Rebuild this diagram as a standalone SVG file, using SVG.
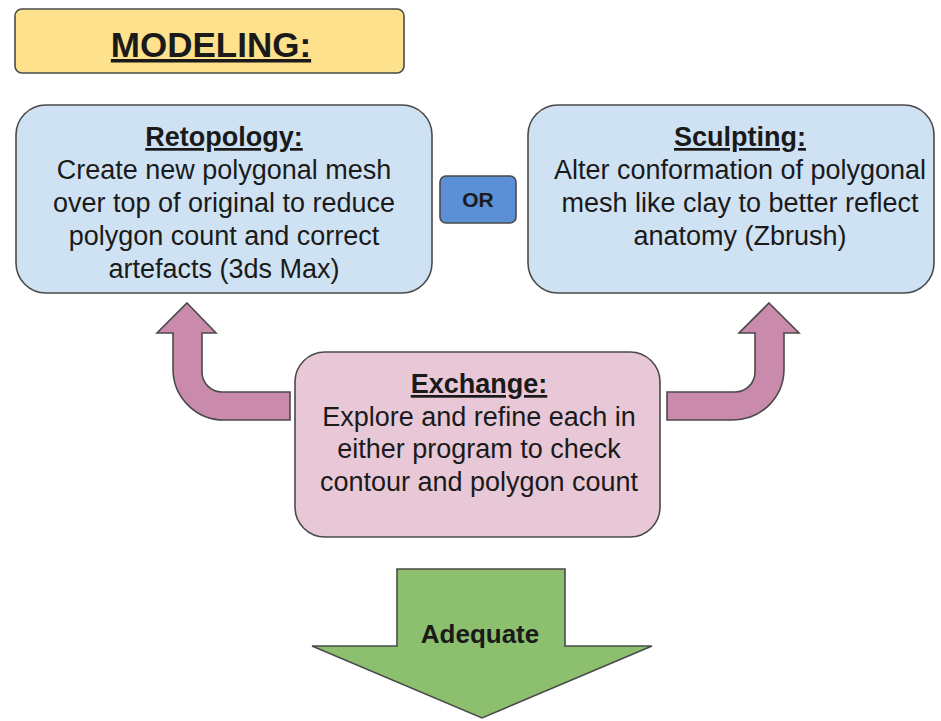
<svg xmlns="http://www.w3.org/2000/svg" width="941" height="721" viewBox="0 0 941 721">
  <style>
    .box { stroke: #4a4a4a; stroke-width: 1.6; }
    .txt { font-family: "Liberation Sans", Arial, sans-serif; font-size: 27px; fill: #1a1a1a; text-anchor: middle; }
    .hd { font-weight: bold; text-decoration: underline; }
    .arrow { stroke: #4a4a4a; stroke-width: 1.6; stroke-linejoin: miter; }
  </style>
  <rect width="941" height="721" fill="#ffffff"/>

  <g id="title">
    <rect class="box" x="15" y="9" width="389" height="64" rx="7" fill="#fde18d"/>
    <text class="txt hd" x="211" y="57" style="font-size:35px">MODELING:</text>
  </g>

  <g id="connectors">
    <!-- curved arrow from Exchange up to Retopology -->
    <path class="arrow" fill="#c98aab" d="M 187 303 L 216 333 L 202 333 L 202 372 A 20 20 0 0 0 222 392 L 290 392 L 290 420 L 224 420 A 51 51 0 0 1 173 369 L 173 333 L 157 333 Z"/>
    <!-- curved arrow from Exchange up to Sculpting -->
    <path class="arrow" fill="#c98aab" d="M 769 303 L 799 333 L 784 333 L 784 369 A 51 51 0 0 1 733 420 L 667 420 L 667 392 L 735 392 A 20 20 0 0 0 755 372 L 755 333 L 739 333 Z"/>
  </g>

  <g id="retopology">
    <rect class="box" x="16" y="105" width="416" height="188" rx="30" fill="#cfe2f3"/>
    <text class="txt hd" x="224" y="146">Retopology:</text>
    <text class="txt" x="224" y="179">Create new polygonal mesh</text>
    <text class="txt" x="224" y="212">over top of original to reduce</text>
    <text class="txt" x="224" y="245">polygon count and correct</text>
    <text class="txt" x="224" y="278">artefacts (3ds Max)</text>
  </g>

  <g id="or">
    <rect class="box" x="440" y="176" width="76" height="47" rx="6" fill="#5b8fd6"/>
    <text class="txt" x="478" y="207" style="font-size:21px;font-weight:bold">OR</text>
  </g>

  <g id="sculpting">
    <rect class="box" x="528" y="105" width="406" height="188" rx="30" fill="#cfe2f3"/>
    <text class="txt hd" x="740" y="146">Sculpting:</text>
    <text class="txt" x="740" y="179">Alter conformation of polygonal</text>
    <text class="txt" x="740" y="212">mesh like clay to better reflect</text>
    <text class="txt" x="740" y="245">anatomy (Zbrush)</text>
  </g>

  <g id="exchange">
    <rect class="box" x="295" y="352" width="365" height="185" rx="30" fill="#e8c8d7"/>
    <text class="txt hd" x="479" y="393">Exchange:</text>
    <text class="txt" x="479" y="426">Explore and refine each in</text>
    <text class="txt" x="479" y="458">either program to check</text>
    <text class="txt" x="479" y="491">contour and polygon count</text>
  </g>

  <g id="adequate">
    <path class="arrow" fill="#8cc06f" d="M 397 569 L 565 569 L 565 646 L 652 646 L 482 718 L 312 646 L 397 646 Z"/>
    <text class="txt" x="480" y="643" style="font-size:26px;font-weight:bold">Adequate</text>
  </g>
</svg>
